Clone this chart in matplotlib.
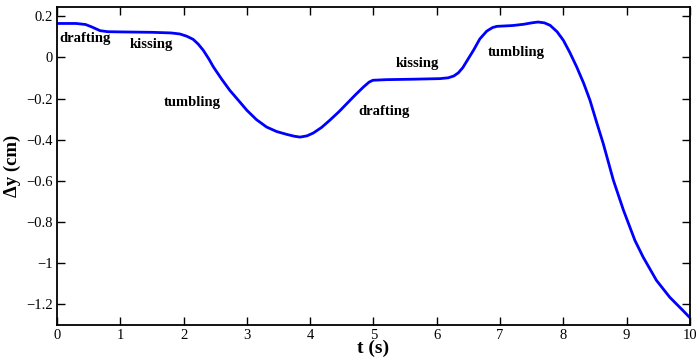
import matplotlib
matplotlib.use('Agg')
import matplotlib.pyplot as plt
import matplotlib.ticker as mticker

# values
t_s = [0.0, 0.3, 0.45, 0.55, 0.68, 0.8, 1.0, 1.5, 1.8, 1.94, 2.05, 2.15, 2.23,
       2.31, 2.40, 2.47, 2.6, 2.73, 2.87, 3.0, 3.15, 3.31, 3.47, 3.63, 3.75,
       3.84, 3.95, 4.05, 4.18, 4.31, 4.45, 4.58, 4.71, 4.84, 4.93, 4.99, 5.2,
       5.6, 6.05, 6.18, 6.27, 6.34, 6.41, 6.5, 6.58, 6.68, 6.79, 6.88, 6.95,
       7.2, 7.37, 7.5, 7.6, 7.7, 7.79, 7.9, 8.0, 8.1, 8.21, 8.32, 8.42, 8.52,
       8.63, 8.79, 8.95, 9.13, 9.26, 9.47, 9.68, 9.89, 10.0]
dy_cm = [0.165, 0.165, 0.16, 0.148, 0.13, 0.125, 0.124, 0.122, 0.119, 0.114,
         0.103, 0.088, 0.065, 0.035, -0.008, -0.046, -0.105, -0.16, -0.21,
         -0.257, -0.302, -0.338, -0.36, -0.374, -0.383, -0.387, -0.381, -0.367,
         -0.34, -0.305, -0.265, -0.224, -0.183, -0.144, -0.12, -0.111, -0.108,
         -0.106, -0.103, -0.099, -0.09, -0.075, -0.05, -0.005, 0.035, 0.09,
         0.128, 0.145, 0.151, 0.155, 0.161, 0.168, 0.172, 0.168, 0.156, 0.125,
         0.083, 0.025, -0.046, -0.125, -0.208, -0.31, -0.419, -0.597, -0.743,
         -0.889, -0.97, -1.083, -1.165, -1.23, -1.265]

# phase annotations
labels = ['drafting', 'kissing', 'tumbling', 'drafting', 'kissing', 'tumbling']
label_t = [0.03, 1.49, 2.14, 5.17, 5.70, 7.25]
label_y = [0.093, 0.064, -0.218, -0.262, -0.03, 0.026]
label_ha = ['left', 'center', 'center', 'center', 'center', 'center']

plt.rcParams['font.family'] = ['Liberation Serif', 'DejaVu Serif']
plt.rcParams['axes.unicode_minus'] = True

fig = plt.figure(figsize=(6.98, 3.59), dpi=100)
ax = fig.add_axes([0.0817, 0.0947, 0.9068, 0.8858])

ax.plot(t_s, dy_cm, color='#0000ff', linewidth=2)

for txt, x, y, ha in zip(labels, label_t, label_y, label_ha):
    ax.text(x, y, txt, fontsize=10.5, fontweight='bold', ha=ha, va='center')

ax.set_xlim(0, 10)
ax.set_ylim(-1.3, 0.245)
ax.set_xticks(range(0, 11))
ax.set_yticks([0.2, 0, -0.2, -0.4, -0.6, -0.8, -1.0, -1.2])
ax.yaxis.set_major_formatter(mticker.FuncFormatter(
    lambda v, p: ('%g' % round(v, 2)).replace('-', '\u2212')))

ax.tick_params(direction='in', top=True, right=True, length=6, width=1,
               labelsize=10.5)
ax.tick_params(axis='y', pad=3)
ax.tick_params(axis='x', pad=3)
for sp in ax.spines.values():
    sp.set_linewidth(1.3)

ax.set_xlabel('t (s)', fontsize=14, fontweight='bold', labelpad=-2)
ax.set_ylabel('\u0394y (cm)', fontsize=13.5, fontweight='bold', labelpad=4)

fig.savefig('out.png', dpi=100)
